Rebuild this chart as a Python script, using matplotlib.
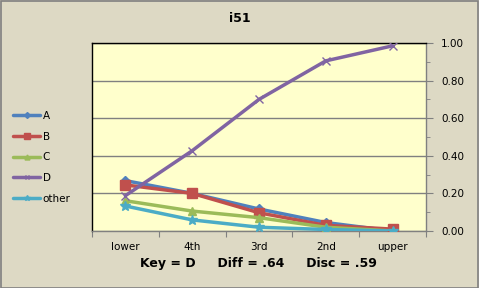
import matplotlib
matplotlib.use("Agg")
import matplotlib.pyplot as plt
from matplotlib.patches import Rectangle

categories = ["lower", "4th", "3rd", "2nd", "upper"]
series_names = ["A", "B", "C", "D", "other"]
A = [0.268, 0.20, 0.117, 0.045, 0.00]
B = [0.245, 0.20, 0.097, 0.03, 0.01]
C = [0.161, 0.106, 0.071, 0.02, 0.00]
D = [0.188, 0.427, 0.70, 0.905, 0.985]
other = [0.133, 0.059, 0.02, 0.008, 0.00]
yticks = [0.0, 0.2, 0.4, 0.6, 0.8, 1.0]
ytick_labels = ["0.00", "0.20", "0.40", "0.60", "0.80", "1.00"]
title = "i51"
footer = "Key = D     Diff = .64     Disc = .59"

colors = ["#4F81BD", "#C0504D", "#9BBB59", "#8064A2", "#4BACC6"]
markers = ["D", "s", "^", "x", "*"]
msizes = [5, 7, 6, 6, 7]

plt.rcParams['font.family'] = ['DejaVu Sans']
W, H = 479, 288
fig = plt.figure(figsize=(W/100, H/100), dpi=100)
fig.patch.set_facecolor("#DDD9C4")
fig.patches.append(Rectangle((0.5/W, 0.5/H), 1-1.5/W, 1-1.5/H, transform=fig.transFigure,
                             fill=False, edgecolor="#808080", lw=1.2))

left, right, top, bottom = 92, 426, 43, 231
ax = fig.add_axes([left/W, 1-bottom/H, (right-left)/W, (bottom-top)/H])
ax.set_facecolor("#FFFFCC")

x = list(range(len(categories)))
data = [A, B, C, D, other]
handles = []
for name, vals, c, m, ms in zip(series_names, data, colors, markers, msizes):
    h, = ax.plot(x, vals, color=c, lw=2.5, marker=m, ms=ms, mec=c, mfc=c, mew=1.0,
                 label=name, solid_capstyle='round', zorder=3)
    handles.append(h)

ax.set_xlim(-0.5, len(categories)-0.5)
ax.set_ylim(0, 1.0)
ax.yaxis.tick_right()
ax.set_yticks(yticks)
ax.set_yticklabels(ytick_labels, fontsize=7.5)
ax.set_yticks([0.1, 0.3, 0.5, 0.7, 0.9], minor=True)
ax.tick_params(axis='y', which='major', length=5, color="#808080", pad=6)
ax.tick_params(axis='y', which='minor', length=3, color="#808080")
ax.grid(axis='y', which='major', color="#808080", lw=1)
ax.set_axisbelow(True)

ax.set_xticks([i-0.5 for i in range(len(categories)+1)])
ax.set_xticklabels([])
ax.set_xticks(x, minor=True)
ax.set_xticklabels(categories, minor=True, fontsize=7.5)
ax.tick_params(axis='x', which='major', length=4, color="#808080")
ax.tick_params(axis='x', which='minor', length=0, pad=8)

ax.spines['left'].set_color('black')
ax.spines['top'].set_color('black')
ax.spines['right'].set_color('#808080')
ax.spines['bottom'].set_color('#808080')
for s in ax.spines.values():
    s.set_linewidth(1)

fig.text(240/W, 1-19/H, title, ha='center', va='center', fontsize=9, fontweight='bold')
fig.text(258/W, 1-263/H, footer, ha='center', va='center', fontsize=9, fontweight='bold')

leg = fig.legend(handles=handles, loc='upper left', bbox_to_anchor=(13/W, 1-111/H),
                 frameon=False, fontsize=7.5, handlelength=2.6, handletextpad=0.25,
                 labelspacing=1.02, borderaxespad=0, borderpad=0, markerscale=0.6)

fig.savefig("out.png", dpi=100, facecolor=fig.get_facecolor())
